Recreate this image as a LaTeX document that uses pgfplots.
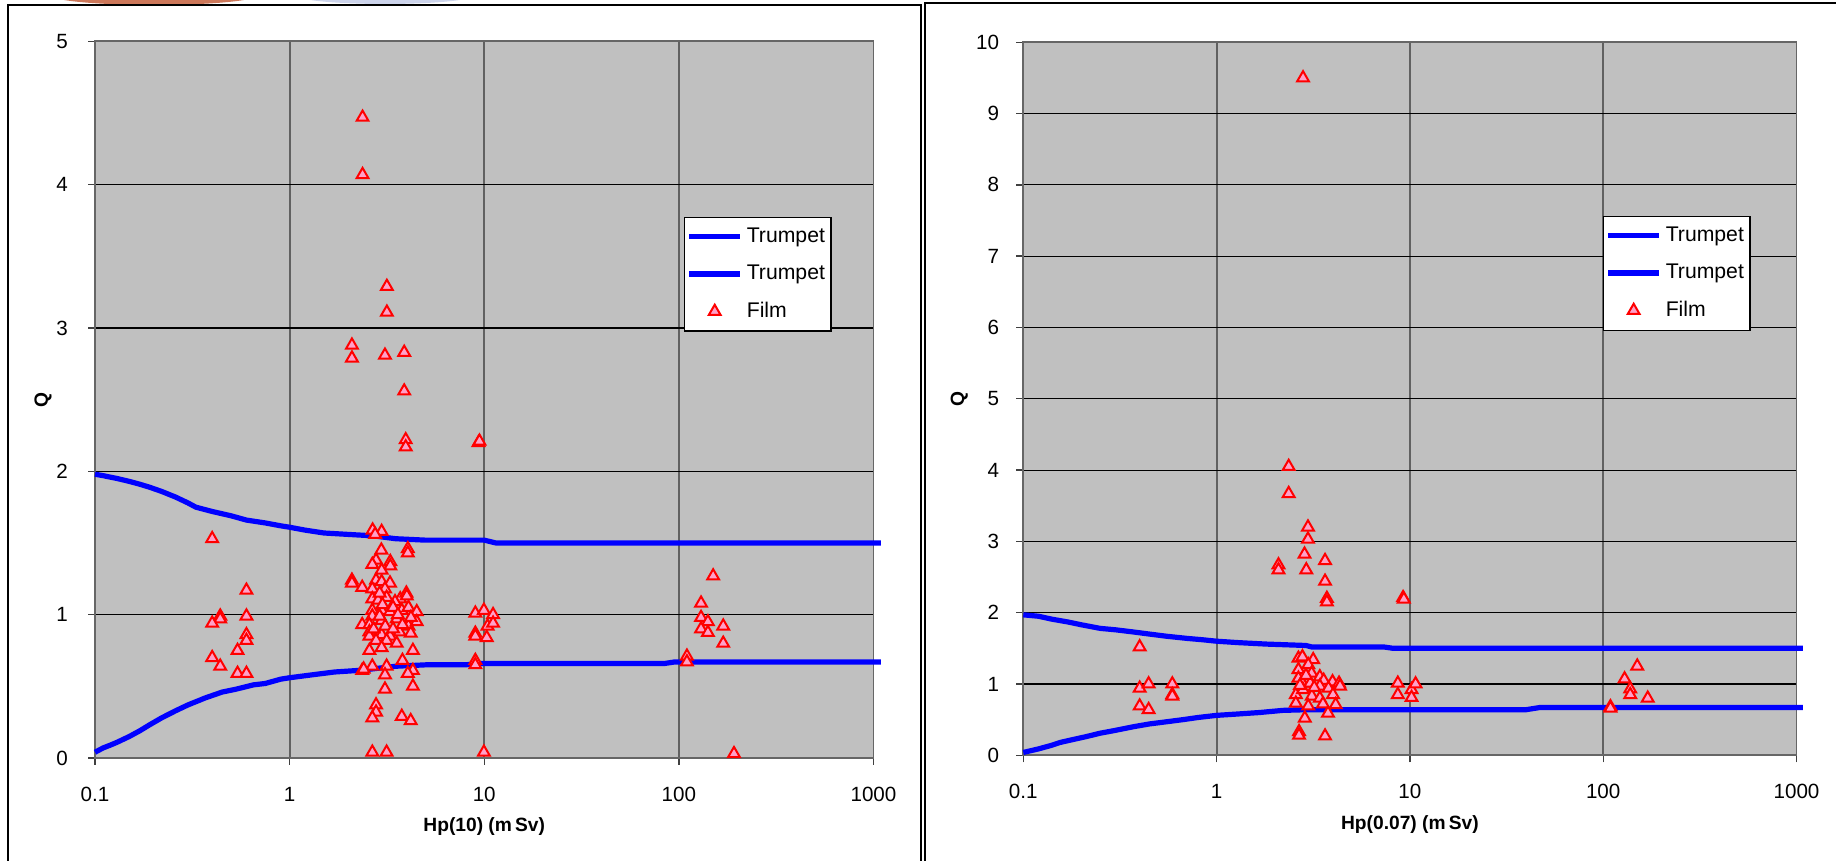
\documentclass[border=0pt]{standalone}
\usepackage{pgfplots}
\pgfplotsset{compat=1.18}
\usepackage{fontspec}
\setmainfont{Liberation Sans}
\definecolor{plotgray}{RGB}{192,192,192}
\definecolor{trumpetblue}{RGB}{0,0,255}
\definecolor{filmpink}{RGB}{255,160,200}
\definecolor{photoorange}{RGB}{205,120,90}
\definecolor{photoblue}{RGB}{205,212,235}
\pgfkeys{/pgf/number format/assume math mode=true}
\pgfplotsset{legend image code/.code={\draw[mark repeat=2,mark phase=2,#1] plot coordinates {(0pt,0pt) (12.75pt,0pt) (25.5pt,0pt)};}}

\begin{document}
\begin{tikzpicture}[x=0.5pt,y=0.5pt]
\useasboundingbox (0,0) rectangle (1836,861);
\begin{scope}
\clip (0,0) rectangle (1836,861);
\fill[photoorange] (154,866) ellipse (104 and 10);
\fill[photoblue] (385,866) ellipse (90 and 9);
\draw[black, line width=1pt] (7.5,-10) -- (7.5,856) -- (920.5,856) -- (920.5,-10);
\draw[black, line width=1pt] (924.5,-10) -- (924.5,857.5) -- (1850,857.5);
\end{scope}

% ---------------- left chart ----------------
\begin{axis}[
  scale only axis,
  xmode=log,
  xmin=0.1, xmax=1000, ymin=0, ymax=5,
  clip=false,
  axis background/.style={fill=plotgray},
  xmajorgrids, ymajorgrids,
  x grid style={black!62, line width=0.9pt},
  y grid style={black, line width=0.55pt},
  axis line style={draw=black!60, line width=0.9pt},
  xtick={0.1,1,10,100,1000},
  xticklabels={0.1,1,10,100,1000},
  xminorticks=false,
  ytick={0,1,2,3,4,5},
  tick align=outside,
  major tick length=3.5pt,
  tick style={black!75, line width=0.7pt},
  xtick pos=bottom, ytick pos=left,
  tick label style={font=\fontsize{10.3}{12}\selectfont},
  xticklabel style={yshift=-7.6pt},
  yticklabel style={xshift=-6.6pt},
  xlabel={Hp(10) (m\,Sv)}, ylabel={Q},
  every axis x label/.style={at={(rel axis cs:0.5,0)}, anchor=center, yshift=-34.5pt,
    font=\bfseries\fontsize{9.6}{11}\selectfont},
  every axis y label/.style={at={(rel axis cs:0,0.5)}, anchor=center, xshift=-26pt, rotate=90,
    font=\bfseries\fontsize{9.6}{11}\selectfont},
  legend cell align=left,
  legend style={draw=black, line width=0.6pt, fill=white,
    font=\fontsize{10.6}{12.5}\selectfont, anchor=north west,
    inner xsep=1pt, inner ysep=3.2pt, row sep=5.8pt,
    at={(rel axis cs:0.7566,0.755)}},
  at={(47.5pt,51.5pt)}, anchor=south west,
  width=389.25pt, height=358.3pt,
]
\addplot[trumpetblue, line width=2.6pt, no marks] coordinates {
(0.1,1.98) (0.11,1.97) (0.13,1.95) (0.15,1.93) (0.17,1.91) (0.19,1.89) (0.22,1.86)
(0.26,1.82) (0.3,1.78) (0.33,1.75) (0.4,1.72) (0.5,1.69) (0.6,1.66) (0.75,1.64)
(0.9,1.62) (1.0,1.61) (1.2,1.59) (1.5,1.57) (2.0,1.56) (2.7,1.55) (3.5,1.53)
(5,1.52) (10,1.52) (11.5,1.50) (1090,1.50)};
\addlegendentry{Trumpet}
\addplot[trumpetblue, line width=2.6pt, no marks] coordinates {
(0.1,0.04) (0.11,0.07) (0.12,0.09) (0.13,0.11) (0.15,0.15) (0.17,0.19) (0.19,0.23)
(0.22,0.28) (0.26,0.33) (0.3,0.37) (0.37,0.42) (0.45,0.46) (0.53,0.48) (0.65,0.51)
(0.75,0.52) (0.9,0.55) (1.0,0.56) (1.3,0.58) (1.7,0.60) (2.2,0.61) (2.6,0.62)
(3.5,0.64) (5,0.65) (8,0.65) (9.5,0.66) (85,0.66) (95,0.67) (1090,0.67)};
\addlegendentry{Trumpet}
\addplot[only marks, mark=triangle*, mark size=3.4pt,
  mark options={draw=red, fill=filmpink, line width=1pt, solid}] coordinates {
(0.40,1.53) (0.60,1.17) (0.44,0.99) (0.44,0.97) (0.40,0.94) (0.60,0.99) (0.60,0.86)
(0.60,0.82) (0.54,0.75) (0.40,0.70) (0.44,0.64) (0.54,0.59) (0.60,0.59)
(2.37,4.47) (2.37,4.07) (3.16,3.29) (3.16,3.11) (2.09,2.88) (2.09,2.79) (3.09,2.81)
(3.88,2.83) (3.88,2.56) (3.95,2.22) (3.95,2.17) (9.35,2.20) (9.45,2.21)
(2.67,1.59) (2.97,1.58) (2.75,1.56) (4.05,1.46) (4.05,1.43) (2.96,1.45) (2.78,1.38)
(2.66,1.35) (3.29,1.37) (3.29,1.34) (2.97,1.31) (2.09,1.24) (2.09,1.22) (2.36,1.19)
(2.78,1.24) (2.97,1.23) (3.28,1.22) (2.66,1.18) (3.09,1.18) (2.66,1.11) (3.15,1.12)
(3.70,1.11) (3.98,1.15) (4.0,1.13) (3.48,1.09) (3.77,1.03) (4.08,1.05) (4.50,1.02)
(2.66,1.03) (2.66,0.99) (2.97,1.03) (3.28,1.02) (2.97,0.96) (2.36,0.93) (2.57,0.93)
(2.57,0.88) (3.55,0.97) (4.08,0.92) (4.50,0.95) (4.19,0.87) (3.67,0.88) (3.28,0.85)
(2.97,0.86) (2.57,0.85) (2.78,0.82) (3.15,0.82) (3.55,0.80) (2.57,0.75) (2.97,0.77)
(4.30,0.75) (3.80,0.68) (2.36,0.61) (2.66,0.64) (3.15,0.64) (4.30,0.61) (3.09,0.58)
(4.05,0.59) (4.30,0.50) (3.09,0.48) (2.78,0.37) (2.78,0.32) (2.66,0.28) (3.77,0.29)
(4.19,0.26) (2.66,0.04) (3.15,0.04)
(2.85,1.10) (3.0,1.07) (3.4,1.05) (2.9,0.99) (3.1,0.92) (3.8,0.93) (2.7,0.90)
(3.4,0.90) (4.2,0.98) (2.9,1.15) (3.6,1.00) (2.4,0.62)
(9.96,0.04) (9.0,1.01) (9.96,1.03) (11.1,1.00) (10.4,0.92) (11.1,0.94) (9.0,0.87)
(9.0,0.85) (10.3,0.84) (9.0,0.68) (9.0,0.65)
(150,1.27) (130,1.08) (130,0.98) (141,0.95) (130,0.90) (141,0.875) (169,0.92)
(169,0.80) (110,0.71) (110,0.67) (192,0.03)};
\addlegendentry{Film}
\end{axis}

% ---------------- right chart ----------------
\begin{axis}[
  scale only axis,
  xmode=log,
  xmin=0.1, xmax=1000, ymin=0, ymax=10,
  clip=false,
  axis background/.style={fill=plotgray},
  xmajorgrids, ymajorgrids,
  x grid style={black!62, line width=0.9pt},
  y grid style={black, line width=0.55pt},
  axis line style={draw=black!60, line width=0.9pt},
  xtick={0.1,1,10,100,1000},
  xticklabels={0.1,1,10,100,1000},
  xminorticks=false,
  ytick={0,1,2,3,4,5,6,7,8,9,10},
  tick align=outside,
  major tick length=3.5pt,
  tick style={black!75, line width=0.7pt},
  xtick pos=bottom, ytick pos=left,
  tick label style={font=\fontsize{10.3}{12}\selectfont},
  xticklabel style={yshift=-7.6pt},
  yticklabel style={xshift=-5.1pt},
  xlabel={Hp(0.07) (m\,Sv)}, ylabel={Q},
  every axis x label/.style={at={(rel axis cs:0.5,0)}, anchor=center, yshift=-34.5pt,
    font=\bfseries\fontsize{9.6}{11}\selectfont},
  every axis y label/.style={at={(rel axis cs:0,0.5)}, anchor=center, xshift=-32pt, rotate=90,
    font=\bfseries\fontsize{9.6}{11}\selectfont},
  legend cell align=left,
  legend style={draw=black, line width=0.6pt, fill=white,
    font=\fontsize{10.6}{12.5}\selectfont, anchor=north west,
    inner xsep=1pt, inner ysep=3.2pt, row sep=5.8pt,
    at={(rel axis cs:0.7497,0.7564)}},
  at={(511.65pt,52.85pt)}, anchor=south west,
  width=386.6pt, height=356.5pt,
]
\addplot[trumpetblue, line width=2.6pt, no marks] coordinates {
(0.1,1.97) (0.12,1.95) (0.14,1.91) (0.17,1.87) (0.2,1.83) (0.25,1.78) (0.3,1.76)
(0.37,1.73) (0.45,1.70) (0.55,1.67) (0.7,1.64) (0.85,1.62) (1.0,1.60) (1.3,1.58)
(1.8,1.56) (2.9,1.54) (3.1,1.52) (7.3,1.52) (8.2,1.50) (1080,1.50)};
\addlegendentry{Trumpet}
\addplot[trumpetblue, line width=2.6pt, no marks] coordinates {
(0.1,0.04) (0.12,0.09) (0.14,0.14) (0.155,0.18) (0.18,0.22) (0.21,0.26) (0.25,0.31)
(0.3,0.35) (0.37,0.40) (0.45,0.44) (0.55,0.47) (0.67,0.50) (0.8,0.53) (1.0,0.56)
(1.3,0.58) (1.67,0.60) (2.2,0.63) (3,0.64) (40,0.64) (47,0.67) (1080,0.67)};
\addlegendentry{Trumpet}
\addplot[only marks, mark=triangle*, mark size=3.4pt,
  mark options={draw=red, fill=filmpink, line width=1pt, solid}] coordinates {
(2.8,9.5) (2.36,4.05) (2.36,3.67) (2.97,3.20) (2.97,3.03) (2.85,2.82) (2.09,2.67)
(2.09,2.60) (2.91,2.60) (3.64,2.73) (3.64,2.44) (3.72,2.20) (3.72,2.15) (9.22,2.21)
(9.3,2.19)
(2.65,1.36) (2.78,1.38) (3.16,1.34) (2.98,1.27) (2.65,1.20) (3.10,1.15) (3.42,1.10)
(2.65,1.08) (3.58,1.05) (2.78,1.01) (3.05,1.01) (3.98,1.03) (4.30,1.01) (4.35,0.97)
(3.42,0.97) (3.79,0.94) (2.57,0.85) (2.80,0.92) (3.11,0.83) (3.42,0.80) (4.0,0.85)
(2.57,0.73) (2.98,0.69) (3.55,0.72) (4.13,0.71) (3.77,0.59) (2.86,0.52) (2.67,0.33)
(2.67,0.28) (3.64,0.27) (2.9,1.12) (3.2,0.95) (2.7,0.98)
(0.40,1.52) (0.40,0.94) (0.445,1.00) (0.59,1.00) (0.59,0.85) (0.59,0.83) (0.40,0.69)
(0.445,0.64)
(8.66,1.01) (8.66,0.85) (10.2,0.92) (10.2,0.81) (10.7,1.00)
(150,1.25) (129,1.07) (138,0.93) (138,0.85) (170,0.80) (109,0.68) (109,0.66)};
\addlegendentry{Film}
\end{axis}
\end{tikzpicture}
\end{document}
